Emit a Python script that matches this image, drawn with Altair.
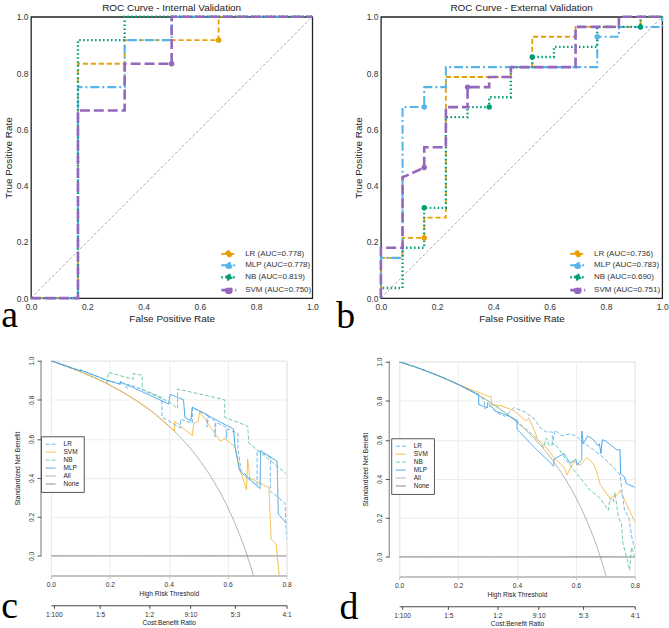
import altair as alt
import pandas as pd

SANS = "Liberation Sans"
SERIF = "Liberation Serif"

# ---------------- ROC curves ----------------
MODELS = ["LR", "MLP", "NB", "SVM"]
ROC_COLORS = ["#E69F00", "#56B4E9", "#009E73", "#9467BD"]
ROC_DASHES = [[5, 3], [9, 3, 2, 3], [1.5, 2.5], [10, 4]]
ROC_WIDTHS = [1.8, 2.6, 1.8, 2.8]
ROC_TICKS = [0.0, 0.2, 0.4, 0.6, 0.8, 1.0]
# legend glyph: a short line with a dot in the middle
ROC_SYMBOL = "M-2.15,0H2.15M0.75,0A0.75,0.75,0,1,1,-0.75,0A0.75,0.75,0,1,1,0.75,0Z"

diag_x = [0.0, 1.0]
diag_y = [0.0, 1.0]

# internal validation
int_auc = ["0.778", "0.778", "0.819", "0.750"]
int_lr_fpr = [0.0, 0.167, 0.167, 0.333, 0.333, 0.667, 0.667, 1.0]
int_lr_tpr = [0.0, 0.0, 0.833, 0.833, 0.917, 0.917, 1.0, 1.0]
int_mlp_fpr = [0.0, 0.167, 0.167, 0.333, 0.333, 0.5, 0.5, 1.0]
int_mlp_tpr = [0.0, 0.0, 0.75, 0.75, 0.917, 0.917, 1.0, 1.0]
int_nb_fpr = [0.0, 0.167, 0.167, 0.333, 0.333, 1.0]
int_nb_tpr = [0.0, 0.0, 0.917, 0.917, 1.0, 1.0]
int_svm_fpr = [0.0, 0.167, 0.167, 0.333, 0.333, 0.5, 0.5, 1.0]
int_svm_tpr = [0.0, 0.0, 0.667, 0.667, 0.833, 0.833, 1.0, 1.0]
int_pt_model = ["LR", "SVM"]
int_pt_fpr = [0.667, 0.5]
int_pt_tpr = [0.917, 0.833]

# external validation
ext_auc = ["0.736", "0.783", "0.690", "0.751"]
ext_lr_fpr = [0.0, 0.0, 0.077, 0.077, 0.154, 0.154, 0.231, 0.231, 0.462, 0.462,
              0.538, 0.538, 0.692, 0.692, 0.923, 0.923, 1.0]
ext_lr_tpr = [0.0, 0.143, 0.143, 0.214, 0.214, 0.286, 0.286, 0.786, 0.786, 0.821,
              0.821, 0.929, 0.929, 0.964, 0.964, 1.0, 1.0]
ext_mlp_fpr = [0.0, 0.0, 0.077, 0.077, 0.154, 0.154, 0.231, 0.231, 0.769, 0.769,
               0.846, 0.846, 1.0, 1.0]
ext_mlp_tpr = [0.0, 0.143, 0.143, 0.679, 0.679, 0.75, 0.75, 0.821, 0.821, 0.929,
               0.929, 0.964, 0.964, 1.0]
ext_nb_fpr = [0.0, 0.0, 0.077, 0.077, 0.154, 0.154, 0.231, 0.231, 0.308, 0.308,
              0.385, 0.385, 0.462, 0.462, 0.538, 0.538, 0.615, 0.615, 0.769, 0.769,
              0.923, 0.923, 1.0]
ext_nb_tpr = [0.0, 0.036, 0.036, 0.179, 0.179, 0.321, 0.321, 0.643, 0.643, 0.679,
              0.679, 0.714, 0.714, 0.821, 0.821, 0.857, 0.857, 0.893, 0.893, 0.964,
              0.964, 1.0, 1.0]
ext_svm_fpr = [0.0, 0.0, 0.077, 0.077, 0.154, 0.154, 0.231, 0.231, 0.308, 0.308,
               0.385, 0.385, 0.462, 0.462, 0.692, 0.692, 0.846, 0.846, 1.0]
ext_svm_tpr = [0.0, 0.179, 0.179, 0.429, 0.464, 0.536, 0.536, 0.679, 0.679, 0.75,
               0.75, 0.786, 0.786, 0.821, 0.821, 0.964, 0.964, 1.0, 1.0]
ext_pt_model = ["LR", "MLP", "MLP", "NB", "NB", "NB", "NB", "SVM", "SVM"]
ext_pt_fpr = [0.154, 0.154, 0.769, 0.154, 0.385, 0.538, 0.923, 0.154, 0.308]
ext_pt_tpr = [0.214, 0.679, 0.929, 0.321, 0.679, 0.857, 0.964, 0.464, 0.75]

# ---------------- decision curves ----------------
DCA_NAMES = ["LR", "SVM", "NB", "MLP", "All", "None"]
DCA_COLORS = ["#72b8ea", "#f3b743", "#74cba4", "#3fa2e8", "#a9a9a9", "#808080"]
DCA_DASHES = [[4, 2], [1, 0], [4, 2], [1, 0], [1, 0], [1, 0]]
DCA_WIDTHS = [1.0, 1.0, 1.0, 1.1, 1.1, 2.6]
DCA_XTICKS = [0.0, 0.2, 0.4, 0.6, 0.8]
DCA_YTICKS = [0.0, 0.2, 0.4, 0.6, 0.8, 1.0]
cb_ticks = [0.01, 0.1667, 0.3333, 0.4737, 0.625, 0.8]
cb_labels = ["1:100", "1:5", "1:2", "9:10", "5:3", "4:1"]
none_t = [0.0, 0.8]
none_v = [0.0, 0.0]

# internal
c_all_t = [0.0, 0.1, 0.2, 0.3, 0.4, 0.5, 0.55, 0.6, 0.64, 0.67, 0.6875]
c_all_v = [1.0, 0.944, 0.875, 0.786, 0.667, 0.5, 0.389, 0.25, 0.111, -0.015, -0.1]
c_lr_t = [0.0, 0.10, 0.10, 0.19, 0.235, 0.235, 0.262, 0.262, 0.315, 0.377, 0.377,
          0.44, 0.44, 0.48, 0.48, 0.53, 0.53, 0.535, 0.557, 0.557, 0.56, 0.595,
          0.595, 0.60, 0.635, 0.635, 0.645, 0.70, 0.70, 0.745, 0.745, 0.772, 0.795, 0.80]
c_lr_v = [1.0, 0.948, 0.953, 0.900, 0.880, 0.893, 0.857, 0.880, 0.850, 0.812, 0.712,
          0.655, 0.700, 0.680, 0.760, 0.725, 0.660, 0.715, 0.690, 0.610, 0.685, 0.660,
          0.600, 0.650, 0.628, 0.550, 0.440, 0.360, 0.540, 0.505, 0.330, 0.300, 0.270, 0.085]
c_svm_t = [0.0, 0.05, 0.1, 0.15, 0.2, 0.25, 0.3, 0.35, 0.42, 0.42, 0.48, 0.485, 0.50,
           0.505, 0.575, 0.59, 0.625, 0.64, 0.664, 0.668, 0.675, 0.74, 0.748, 0.765, 0.775]
c_svm_v = [1.0, 0.974, 0.944, 0.912, 0.875, 0.833, 0.786, 0.731, 0.638, 0.690, 0.617,
           0.680, 0.690, 0.740, 0.587, 0.600, 0.561, 0.450, 0.340, 0.497, 0.400, 0.350,
           0.085, 0.060, -0.100]
c_nb_t = [0.0, 0.1, 0.19, 0.195, 0.28, 0.28, 0.31, 0.31, 0.40, 0.43, 0.43, 0.59, 0.59,
          0.668, 0.672, 0.80]
c_nb_v = [1.0, 0.944, 0.885, 0.940, 0.905, 0.935, 0.925, 0.850, 0.790, 0.755, 0.855,
          0.800, 0.710, 0.665, 0.578, 0.420]
c_mlp_t = [0.0, 0.10, 0.10, 0.19, 0.235, 0.235, 0.40, 0.405, 0.45, 0.455, 0.475, 0.48,
           0.62, 0.625, 0.64, 0.645, 0.71, 0.712, 0.768, 0.772, 0.80]
c_mlp_v = [1.0, 0.948, 0.953, 0.900, 0.880, 0.893, 0.778, 0.828, 0.800, 0.710, 0.692,
           0.762, 0.650, 0.560, 0.440, 0.430, 0.345, 0.540, 0.485, 0.215, 0.165]

# external
d_all_t = [0.0, 0.1, 0.2, 0.3, 0.4, 0.5, 0.55, 0.6, 0.65, 0.683, 0.703]
d_all_v = [1.0, 0.948, 0.884, 0.801, 0.690, 0.536, 0.433, 0.304, 0.138, 0.0, -0.1]
d_lr_t = [0.0, 0.05, 0.1, 0.15, 0.2, 0.27, 0.29, 0.29, 0.31, 0.33, 0.36, 0.39, 0.43,
          0.46, 0.48, 0.50, 0.52, 0.52, 0.53, 0.55, 0.58, 0.60, 0.63, 0.66, 0.70, 0.72,
          0.75, 0.765, 0.78, 0.79, 0.80]
d_lr_v = [1.0, 0.976, 0.948, 0.918, 0.884, 0.832, 0.800, 0.760, 0.775, 0.740, 0.720,
          0.765, 0.740, 0.705, 0.660, 0.640, 0.640, 0.580, 0.650, 0.620, 0.630, 0.620,
          0.580, 0.550, 0.500, 0.470, 0.420, 0.240, 0.200, 0.100, 0.040]
d_svm_t = [0.0, 0.05, 0.1, 0.15, 0.2, 0.257, 0.30, 0.313, 0.313, 0.347, 0.392, 0.43,
           0.44, 0.46, 0.47, 0.50, 0.53, 0.56, 0.57, 0.593, 0.615, 0.638, 0.66, 0.67,
           0.683, 0.716, 0.738, 0.75, 0.772, 0.80]
d_svm_v = [1.0, 0.976, 0.948, 0.918, 0.884, 0.850, 0.825, 0.820, 0.780, 0.774, 0.748,
           0.697, 0.710, 0.646, 0.600, 0.560, 0.500, 0.460, 0.420, 0.490, 0.470, 0.510,
           0.476, 0.440, 0.370, 0.300, 0.315, 0.340, 0.270, 0.180]
d_nb_t = [0.0, 0.05, 0.1, 0.15, 0.2, 0.25, 0.3, 0.35, 0.40, 0.45, 0.48, 0.49, 0.50,
          0.51, 0.53, 0.57, 0.604, 0.649, 0.683, 0.71, 0.716, 0.727, 0.733, 0.744,
          0.755, 0.76, 0.772, 0.783, 0.789, 0.80]
d_nb_v = [1.0, 0.976, 0.948, 0.918, 0.884, 0.845, 0.801, 0.750, 0.695, 0.630, 0.587,
          0.560, 0.610, 0.570, 0.580, 0.490, 0.425, 0.340, 0.300, 0.238, 0.300, 0.280,
          0.330, 0.204, 0.170, 0.068, 0.000, -0.068, 0.050, 0.000]
d_mlp_t = [0.0, 0.05, 0.1, 0.15, 0.2, 0.25, 0.27, 0.27, 0.30, 0.30, 0.33, 0.36, 0.40,
           0.40, 0.46, 0.525, 0.525, 0.56, 0.58, 0.60, 0.605, 0.62, 0.62, 0.625, 0.64,
           0.66, 0.675, 0.68, 0.685, 0.69, 0.70, 0.74, 0.75, 0.752, 0.765, 0.772, 0.80]
d_mlp_v = [1.0, 0.976, 0.948, 0.918, 0.884, 0.845, 0.830, 0.780, 0.765, 0.790, 0.745,
           0.730, 0.700, 0.655, 0.560, 0.465, 0.500, 0.530, 0.480, 0.500, 0.470, 0.500,
           0.645, 0.580, 0.620, 0.600, 0.570, 0.580, 0.530, 0.600, 0.595, 0.548, 0.550,
           0.425, 0.410, 0.375, 0.357]

NBSP = "\u00a0"


def letter_layer(tag, x, y):
    return alt.Chart(pd.DataFrame({"tag": [tag]})).mark_text(
        font=SERIF, fontSize=38, align="left", baseline="alphabetic", color="#000"
    ).encode(text="tag:N", x=alt.value(x), y=alt.value(y))


def edge_layer(x):
    # invisible rule that fixes the right edge of a panel for the column layout
    return alt.Chart(pd.DataFrame({"k": [0]})).mark_rule(opacity=0, strokeWidth=0).encode(
        x=alt.value(x), y=alt.value(0), y2=alt.value(10))


def roc_panel(title, aucs, curves, pt_model, pt_fpr, pt_tpr, tag, tag_xy, leg_xy):
    labels = [f"{m} (AUC={a})" for m, a in zip(MODELS, aucs)]
    name = dict(zip(MODELS, labels))
    rows = []
    for m, (xs, ys) in zip(MODELS, curves):
        for i, (x, y) in enumerate(zip(xs, ys)):
            rows.append({"curve": name[m], "fpr": x, "tpr": y, "step": i})
    lines_df = pd.DataFrame(rows)
    pts_df = pd.DataFrame({"curve": [name[m] for m in pt_model], "fpr": pt_fpr, "tpr": pt_tpr})

    legend = alt.Legend(
        title=None, orient="none", legendX=leg_xy[0], legendY=leg_xy[1],
        symbolType=ROC_SYMBOL, symbolSize=49, labelFont=SANS, labelFontSize=8,
        labelColor="#333", labelOffset=11.5, rowPadding=-4.8, padding=0,
    )
    axis_common = dict(values=ROC_TICKS, format=".1f", ticks=False, domain=False, grid=False,
                       labelFontSize=8.5, labelColor="#333", labelFlush=False, labelOverlap=False,
                       titleFontSize=10, titleFontWeight="normal", titleColor="#222")
    x = alt.X("fpr:Q", scale=alt.Scale(domain=[0, 1], nice=False, zero=False),
              axis=alt.Axis(title="False Positive Rate", labelPadding=4, titlePadding=3, **axis_common))
    y = alt.Y("tpr:Q", scale=alt.Scale(domain=[0, 1], nice=False, zero=False),
              axis=alt.Axis(title="True Positive Rate", labelPadding=3, titlePadding=3, **axis_common))
    color = alt.Color("curve:N", scale=alt.Scale(domain=labels, range=ROC_COLORS), legend=legend)
    fill = alt.Fill("curve:N", scale=alt.Scale(domain=labels, range=ROC_COLORS), legend=legend)
    dash = alt.StrokeDash("curve:N", scale=alt.Scale(domain=labels, range=ROC_DASHES), legend=legend)
    width = alt.StrokeWidth("curve:N", scale=alt.Scale(domain=labels, range=ROC_WIDTHS), legend=legend)

    diag = alt.Chart(pd.DataFrame({"fpr": diag_x, "tpr": diag_y})).mark_line(
        color="#9a9a9a", strokeWidth=0.8, strokeDash=[3, 2]).encode(x=x, y=y)
    lines = alt.Chart(lines_df).mark_line().encode(
        x=x, y=y, color=color, strokeDash=dash, strokeWidth=width, order="step:Q")
    pts = alt.Chart(pts_df).mark_point(size=30, opacity=1, filled=True, strokeWidth=0).encode(
        x=x, y=y, fill=fill)

    return alt.layer(diag, lines, pts, letter_layer(tag, *tag_xy), edge_layer(289)).properties(
        width=283, height=283,
        title=alt.TitleParams(title, font=SANS, fontSize=10, fontWeight="normal", color="#222", offset=-1),
        view=alt.ViewBackground(stroke="#222", strokeWidth=1.3),
    )


def dca_panel(curves, all_t, all_v, tag, tag_xy, leg_xy, right_edge):
    rows = []
    for nm, ts, vs in curves:
        for i, (t, v) in enumerate(zip(ts, vs)):
            rows.append({"curve": nm, "t": t, "v": v, "step": i})
    df = pd.DataFrame(rows)
    all_df = pd.DataFrame({"curve": ["All"] * len(all_t), "t": all_t, "v": all_v})

    legend = alt.Legend(
        title=None, orient="none", legendX=leg_xy[0], legendY=leg_xy[1],
        symbolType="M-0.95,0H1.9", symbolSize=49, labelFont=SANS, labelFontSize=6.5,
        labelColor="#222", labelOffset=10.7, rowPadding=-1.2, padding=4,
        strokeColor="#555", fillColor="white",
        labelExpr=f"datum.label + '{NBSP * 6}'",
    )
    x = alt.X("t:Q", scale=alt.Scale(domain=[0, 0.8], nice=False, zero=False),
              axis=alt.Axis(title="High Risk Threshold", values=DCA_XTICKS, format=".1f",
                            grid=True, gridColor="#ededed", domainColor="#c4c4c4", domainWidth=2,
                            tickColor="#c4c4c4", tickSize=3, labelFontSize=6.7, labelColor="#333",
                            titleFontSize=6.7, titleFontWeight="normal", titleColor="#222",
                            labelPadding=3, titlePadding=2, labelFlush=False))
    y = alt.Y("v:Q", scale=alt.Scale(domain=[-0.1, 1.0], nice=False, zero=False),
              axis=alt.Axis(title="Standardized Net Benefit", values=DCA_YTICKS, format=".1f",
                            offset=10, domain=False, grid=True, gridColor="#ededed",
                            tickColor="#555", tickSize=4, labelAngle=270, labelAlign="center",
                            labelBaseline="bottom", labelFontSize=6.7, labelColor="#333",
                            titleFontSize=6.7, titleFontWeight="normal", titleColor="#222",
                            labelPadding=3, titlePadding=8, labelFlush=False))
    color = alt.Color("curve:N", scale=alt.Scale(domain=DCA_NAMES, range=DCA_COLORS), legend=legend)
    dash = alt.StrokeDash("curve:N", scale=alt.Scale(domain=DCA_NAMES, range=DCA_DASHES), legend=legend)
    width = alt.StrokeWidth("curve:N", scale=alt.Scale(domain=DCA_NAMES, range=DCA_WIDTHS), legend=legend)

    model_lines = alt.Chart(df).mark_line(clip=True).encode(
        x=x, y=y, color=color, strokeDash=dash, strokeWidth=width, order="step:Q")
    all_line = alt.Chart(all_df).mark_line(clip=True, interpolate="monotone").encode(
        x=x, y=y, color=color, strokeDash=dash, strokeWidth=width)
    yline = alt.Chart(pd.DataFrame({"k": [0]})).mark_rule(color="#555", strokeWidth=0.8).encode(
        x=alt.value(-10), y=alt.datum(0.0), y2=alt.datum(1.0))
    inner = alt.layer(all_line, model_lines, yline, letter_layer(tag, *tag_xy), edge_layer(right_edge))

    cb_expr = f"'{cb_labels[-1]}'"
    for i in range(len(cb_ticks) - 2, -1, -1):
        mid = (cb_ticks[i] + cb_ticks[i + 1]) / 2
        cb_expr = f"datum.value < {mid:.4f} ? '{cb_labels[i]}' : ({cb_expr})"
    cb = alt.Chart(pd.DataFrame({"t": cb_ticks})).mark_point(opacity=0).encode(
        x=alt.X("t:Q", scale=alt.Scale(domain=[0, 0.8], nice=False, zero=False),
                axis=alt.Axis(orient="bottom", offset=30, values=cb_ticks, labelExpr=cb_expr,
                              title="Cost:Benefit Ratio", grid=False, domainColor="#444",
                              tickColor="#444", tickSize=3, labelFontSize=6.7, labelColor="#333",
                              titleFontSize=6.7, titleFontWeight="normal", titleColor="#222",
                              labelPadding=3, titlePadding=2, labelFlush=False)))
    return alt.layer(inner, cb).resolve_scale(x="independent").resolve_axis(x="independent").properties(
        width=237, height=216)


panel_a = roc_panel(
    "ROC Curve - Internal Validation", int_auc,
    [(int_lr_fpr, int_lr_tpr), (int_mlp_fpr, int_mlp_tpr), (int_nb_fpr, int_nb_tpr), (int_svm_fpr, int_svm_tpr)],
    int_pt_model, int_pt_fpr, int_pt_tpr, "a", (-30, 312), (194, 234))
panel_b = roc_panel(
    "ROC Curve - External Validation", ext_auc,
    [(ext_lr_fpr, ext_lr_tpr), (ext_mlp_fpr, ext_mlp_tpr), (ext_nb_fpr, ext_nb_tpr), (ext_svm_fpr, ext_svm_tpr)],
    ext_pt_model, ext_pt_fpr, ext_pt_tpr, "b", (-45, 313), (193, 234))

panel_c = dca_panel(
    [("None", none_t, none_v), ("NB", c_nb_t, c_nb_v), ("SVM", c_svm_t, c_svm_v),
     ("LR", c_lr_t, c_lr_v), ("MLP", c_mlp_t, c_mlp_v)],
    c_all_t, c_all_v, "c", (-50, 259), (-10, 76), 249)
panel_d = dca_panel(
    [("None", none_t, none_v), ("NB", d_nb_t, d_nb_v), ("SVM", d_svm_t, d_svm_v),
     ("LR", d_lr_t, d_lr_v), ("MLP", d_mlp_t, d_mlp_v)],
    d_all_t, d_all_v, "d", (-60, 259), (-8, 77), 252.4)

IND = dict(color="independent", fill="independent", strokeDash="independent", strokeWidth="independent")

left_col = alt.vconcat(panel_a, panel_c, spacing=19, center=True).resolve_scale(**IND).resolve_legend(**IND)
right_col = alt.vconcat(panel_b, panel_d, spacing=19, center=True).resolve_scale(**IND).resolve_legend(**IND)

chart = alt.hconcat(left_col, right_col, spacing=16).resolve_scale(**IND).resolve_legend(**IND).properties(
    padding={"left": 0, "top": 0, "right": 0, "bottom": 0}
).configure_view(stroke="transparent").configure(font=SANS)

chart.save("out.html", embed_options={"renderer": "svg", "actions": False})
